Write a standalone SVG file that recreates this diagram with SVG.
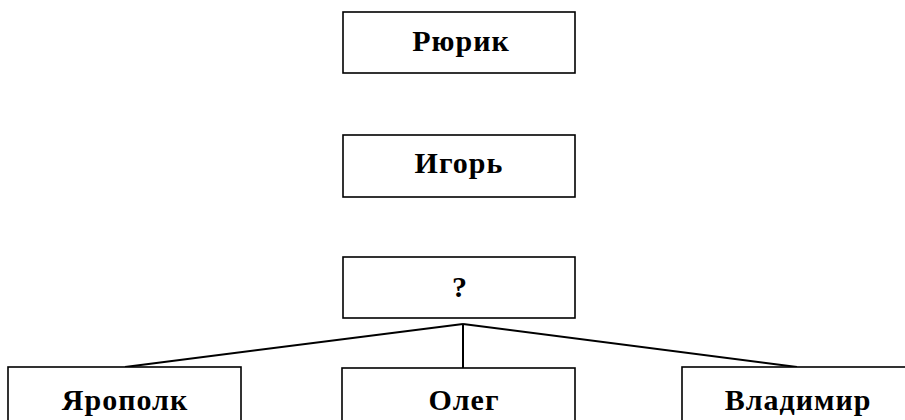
<svg xmlns="http://www.w3.org/2000/svg" width="905" height="420" viewBox="0 0 905 420">
<style>
.box{fill:#fff;stroke:#000;stroke-width:1.6}
.lbl{font-family:"Liberation Serif","Times New Roman",serif;font-weight:bold;font-size:30px;letter-spacing:1px;text-anchor:middle;fill:#000}
.con{stroke:#000;stroke-width:2;fill:none}
</style>
<rect width="905" height="420" fill="#fff"/>
<g id="connectors">
<line class="con" x1="463" y1="324" x2="125" y2="367"/>
<line class="con" x1="463" y1="324" x2="463" y2="368"/>
<line class="con" x1="463" y1="324" x2="797" y2="367"/>
</g>
<g id="rurik"><rect class="box" x="343" y="12" width="232" height="61"/><text class="lbl" x="461" y="51">Рюрик</text></g>
<g id="igor"><rect class="box" x="343" y="135" width="232" height="62"/><text class="lbl" x="459" y="173">Игорь</text></g>
<g id="unknown"><rect class="box" x="343" y="257" width="232" height="61"/><text class="lbl" x="460" y="297">?</text></g>
<g id="yaropolk"><rect class="box" x="8" y="367" width="233" height="62"/><text class="lbl" x="125" y="410">Ярополк</text></g>
<g id="oleg"><rect class="box" x="342" y="368" width="233" height="62"/><text class="lbl" x="464" y="410">Олег</text></g>
<g id="vladimir"><rect class="box" x="682" y="367" width="233" height="62"/><text class="lbl" x="798" y="410">Владимир</text></g>
</svg>
